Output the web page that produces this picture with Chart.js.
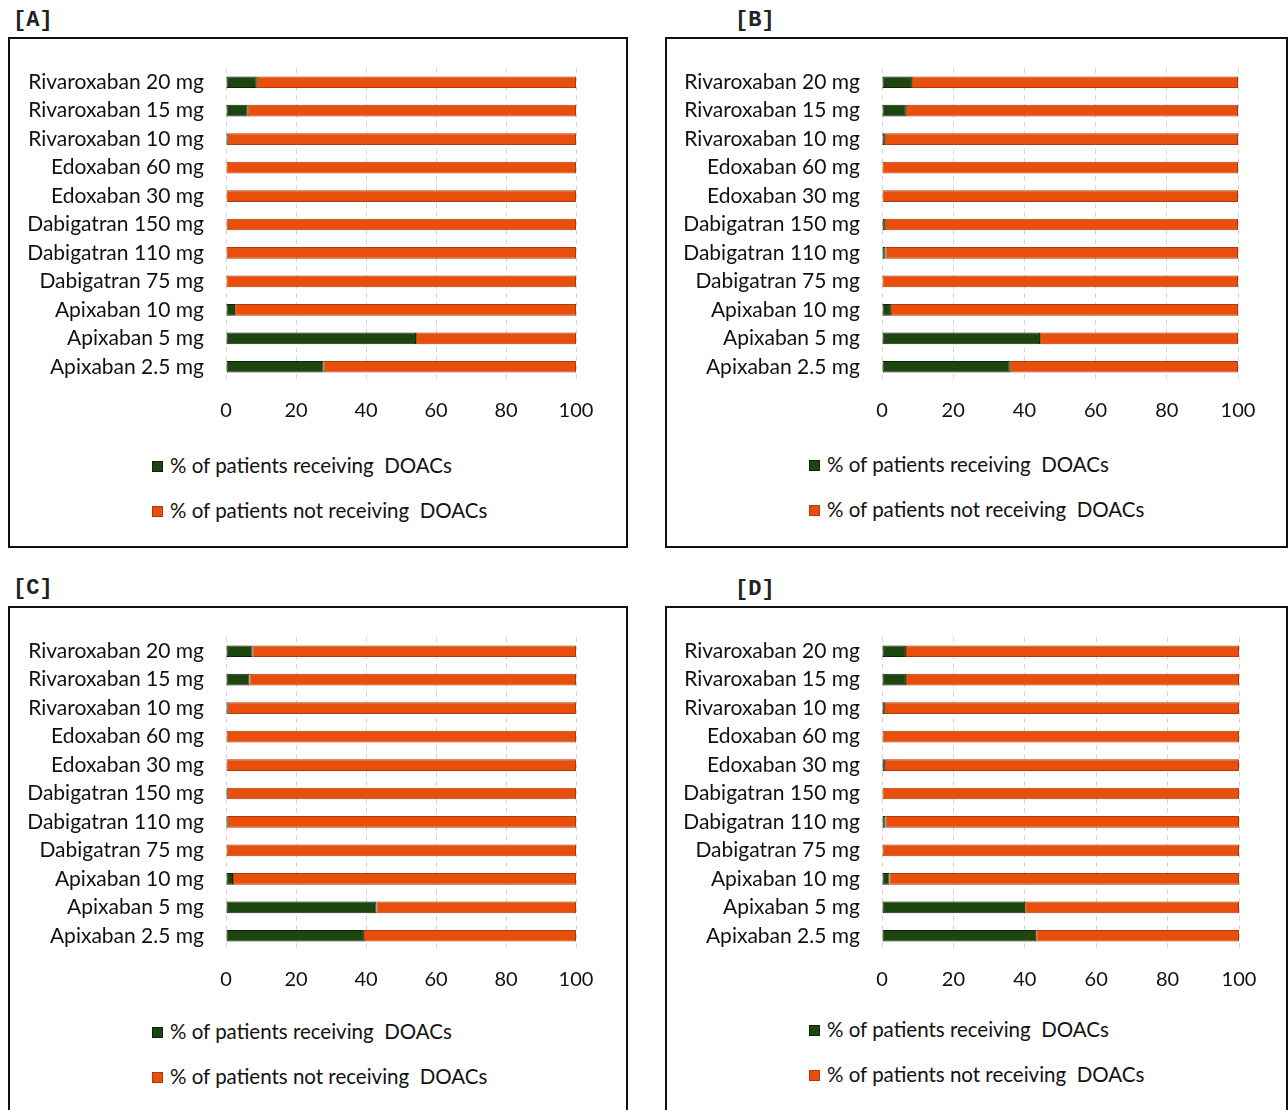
<!DOCTYPE html>
<html>
<head>
<meta charset="utf-8">
<script src="https://cdn.jsdelivr.net/npm/chart.js@4.4.1/dist/chart.umd.min.js"></script>
<style>
    body { margin: 0; background: #fff; width: 1288px; height: 1110px; overflow: hidden; position: relative; font-family: Lato, sans-serif; }
    .panel-label { position: absolute; font-family: "Liberation Mono", monospace; font-size: 22px; font-weight: bold; color: #222; }
    .panel-box { position: absolute; border: 2px solid #111; box-sizing: border-box; background: #fff; }
    .panel-box canvas { position: absolute; left: 0; top: 0; }
    .legend-item { position: absolute; font-size: 20.5px; color: #111; white-space: pre; line-height: 24px; }
    .legend-item .swatch { display: inline-block; width: 9px; height: 9px; margin-right: 7px; vertical-align: 1px; border: 1px solid; }
</style>
</head>
<body>
<script>
// 药物类别（从上到下）
const categories = [
    'Rivaroxaban 20 mg', 'Rivaroxaban 15 mg', 'Rivaroxaban 10 mg',
    'Edoxaban 60 mg', 'Edoxaban 30 mg',
    'Dabigatran 150 mg', 'Dabigatran 110 mg', 'Dabigatran 75 mg',
    'Apixaban 10 mg', 'Apixaban 5 mg', 'Apixaban 2.5 mg'
];
const xTicks = [0, 20, 40, 60, 80, 100];
const seriesNames = ['% of patients receiving  DOACs', '% of patients not receiving  DOACs'];

// [A]
const receivingA = [8.8, 6.2, 0.5, 0, 0, 0, 0, 0, 2.6, 54.3, 27.9];
const notReceivingA = [91.2, 93.8, 99.5, 100, 100, 100, 100, 100, 97.4, 45.7, 72.1];
// [B]
const receivingB = [8.4, 6.7, 0.8, 0, 0, 0.8, 1.0, 0, 2.5, 44.4, 35.9];
const notReceivingB = [91.6, 93.3, 99.2, 100, 100, 99.2, 99.0, 100, 97.5, 55.6, 64.1];
// [C]
const receivingC = [7.6, 6.7, 0.5, 0, 0, 0.5, 0.5, 0, 2.0, 43.0, 39.4];
const notReceivingC = [92.4, 93.3, 99.5, 100, 100, 99.5, 99.5, 100, 98.0, 57.0, 60.6];
// [D]
const receivingD = [6.7, 6.7, 0.8, 0, 0.8, 0, 1.0, 0, 2.1, 40.1, 43.2];
const notReceivingD = [93.3, 93.3, 99.2, 100, 99.2, 100, 99.0, 100, 97.9, 59.9, 56.8];

const GREEN = '#1c4510';
const GREEN_EDGE = '#0c2405';
const ORANGE = '#e84f0c';
const ORANGE_EDGE = '#b23806';

// 面板布局
const panels = [
    { name: '[A]', receiving: receivingA, notReceiving: notReceivingA, left: 8, top: 37, width: 620, labelX: 13, labelY: 8, plotLeft: 218, plotRight: 568, legendShift: 0 },
    { name: '[B]', receiving: receivingB, notReceiving: notReceivingB, left: 665, top: 37, width: 623, labelX: 735, labelY: 8, plotLeft: 217, plotRight: 573, legendShift: -1 },
    { name: '[C]', receiving: receivingC, notReceiving: notReceivingC, left: 8, top: 606, width: 620, labelX: 13, labelY: 576, plotLeft: 218, plotRight: 568, legendShift: -3 },
    { name: '[D]', receiving: receivingD, notReceiving: notReceivingD, left: 665, top: 606, width: 623, labelX: 735, labelY: 577, plotLeft: 217, plotRight: 574, legendShift: -5 }
];

function renderPanel(p) {
    const label = document.createElement('div');
    label.className = 'panel-label';
    label.style.left = p.labelX + 'px';
    label.style.top = p.labelY + 'px';
    label.textContent = p.name;
    document.body.appendChild(label);

    const box = document.createElement('div');
    box.className = 'panel-box';
    box.style.left = p.left + 'px';
    box.style.top = p.top + 'px';
    box.style.width = p.width + 'px';
    box.style.height = '511px';
    document.body.appendChild(box);

    const canvas = document.createElement('canvas');
    const cw = p.width - 4;
    canvas.width = cw;
    canvas.height = 402;
    box.appendChild(canvas);

    const yWidth = p.plotLeft - 2;
    new Chart(canvas.getContext('2d'), {
        type: 'bar',
        data: {
            labels: categories,
            datasets: [
                { label: seriesNames[0], data: p.receiving, backgroundColor: GREEN, borderColor: GREEN_EDGE, borderWidth: 1, borderSkipped: false },
                { label: seriesNames[1], data: p.notReceiving, backgroundColor: ORANGE, borderColor: ORANGE_EDGE, borderWidth: 1, borderSkipped: false }
            ]
        },
        options: {
            indexAxis: 'y',
            responsive: false,
            animation: false,
            devicePixelRatio: 1,
            layout: { padding: { top: 29, right: cw - (p.plotRight - 2), bottom: 0, left: 0 } },
            datasets: { bar: { barPercentage: 0.41, categoryPercentage: 1 } },
            plugins: { legend: { display: false }, tooltip: { enabled: false } },
            scales: {
                x: {
                    stacked: true,
                    min: 0,
                    max: 100,
                    afterBuildTicks: (scale) => { scale.ticks = xTicks.map(v => ({ value: v })); },
                    grid: { color: '#d6d6d6', lineWidth: 1, drawTicks: false },
                    border: { display: false, dash: [5, 4] },
                    ticks: { color: '#111', padding: 18, font: { family: 'Lato', size: 20 } }
                },
                y: {
                    stacked: true,
                    afterFit: (scale) => {
                        scale.width = yWidth;
                        // 标签不额外占用上下空间
                        scale.paddingTop = 0;
                        scale.paddingBottom = 0;
                    },
                    grid: { display: false, drawTicks: false },
                    border: { display: false },
                    ticks: { color: '#111', padding: 22, autoSkip: false, font: { family: 'Lato', size: 21 } }
                }
            }
        }
    });

    // 图例（竖排）
    const legendRows = [
        { text: seriesNames[0], fill: GREEN, edge: GREEN_EDGE, y: 428 },
        { text: seriesNames[1], fill: ORANGE, edge: ORANGE_EDGE, y: 473 }
    ];
    legendRows.forEach(row => {
        const item = document.createElement('div');
        item.className = 'legend-item';
        item.style.left = (p.left + 144) + 'px';
        item.style.top = (p.top + row.y + p.legendShift - 12) + 'px';
        item.innerHTML = `<span class="swatch" style="background:${row.fill};border-color:${row.edge}"></span>${row.text}`;
        document.body.appendChild(item);
    });
}

panels.forEach(renderPanel);
</script>
</body>
</html>
